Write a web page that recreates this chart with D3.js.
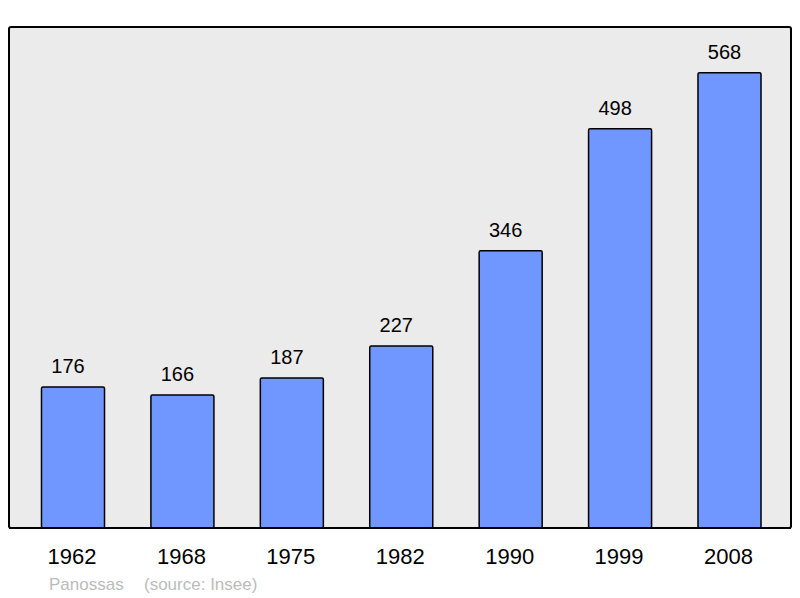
<!DOCTYPE html>
<html><head><meta charset="utf-8">
<script src="https://cdn.jsdelivr.net/npm/d3@7"></script>
<style>body{margin:0;background:#fff}svg{display:block}text{font-family:"Liberation Sans",Arial,sans-serif}</style>
</head><body>
<svg id="c" width="800" height="598"></svg>
<script>
const years = ["1962","1968","1975","1982","1990","1999","2008"];
const population = [176,166,187,227,346,498,568];
const commune = "Panossas";
const source = "(source: Insee)";

const svg = d3.select("#c");
const frame = {x0: 9, x1: 791, y0: 27, y1: 528};

svg.append("rect").attr("x", frame.x0).attr("y", frame.y0)
  .attr("width", frame.x1 - frame.x0).attr("height", frame.y1 - frame.y0)
  .attr("rx", 2).attr("fill", "#ebebeb").attr("stroke", "#000").attr("stroke-width", 2);

const x = d3.scaleBand().domain(years).range([18.3, 784.2]).paddingInner(0.424).paddingOuter(0.212);
const y = d3.scaleLinear().domain([0, 625]).range([frame.y1, frame.y0]);

const g = svg.append("g");
g.selectAll("rect.bar").data(years).join("rect").attr("class","bar")
  .attr("x", d => x(d)).attr("width", x.bandwidth())
  .attr("y", (d,i) => y(population[i])).attr("height", (d,i) => frame.y1 - y(population[i]))
  .attr("rx", 1.5).attr("fill", "#7097ff").attr("stroke", "#000").attr("stroke-width", 1.5);

g.selectAll("text.val").data(years).join("text").attr("class","val")
  .attr("x", d => x(d) + x.bandwidth()/2 - 5).attr("y", (d,i) => y(population[i]) - 14)
  .attr("text-anchor","middle").attr("font-size", 20).attr("fill","#000")
  .text((d,i) => population[i]);

svg.append("line").attr("x1", frame.x0).attr("x2", frame.x1).attr("y1", frame.y1).attr("y2", frame.y1)
  .attr("stroke","#000").attr("stroke-width",2);

const axis = d3.axisBottom(x).tickSize(0).tickPadding(0);
const ag = svg.append("g").attr("transform", `translate(0,${frame.y1})`).call(axis);
ag.select(".domain").remove();
ag.selectAll("text").attr("font-size", 22).attr("fill","#000").attr("font-family", null)
  .attr("dy", null).attr("y", 36).attr("dx", -1);

svg.append("text").attr("x", 49).attr("y", 590).attr("font-size", 17).attr("fill","#bbbbbb").text(commune);
svg.append("text").attr("x", 144).attr("y", 590).attr("font-size", 17).attr("fill","#bbbbbb").text(source);
</script>
</body></html>
